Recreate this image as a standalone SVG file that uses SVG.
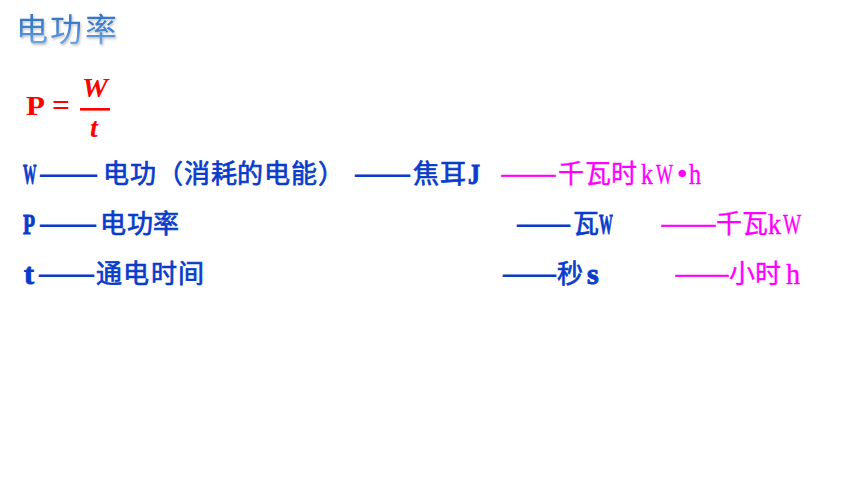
<svg xmlns="http://www.w3.org/2000/svg" width="860" height="484" viewBox="0 0 860 484">
<defs>
<linearGradient id="tg" x1="0" y1="0" x2="0" y2="1">
<stop offset="0" stop-color="#2D6CBD"/>
<stop offset="0.55" stop-color="#3F82CF"/>
<stop offset="1" stop-color="#8CB8E6"/>
</linearGradient>
<filter id="sh" x="-10%" y="-10%" width="130%" height="140%">
<feDropShadow dx="1" dy="1.5" stdDeviation="0.8" flood-color="#000" flood-opacity="0.25"/>
</filter>
</defs>
<style>
.cj{font-family:"Noto Sans CJK SC","Noto Sans",sans-serif;font-size:26px}
.la{font-family:"Liberation Serif","DejaVu Serif",serif;font-size:30px}
.dash{font-family:"Noto Sans CJK SC",sans-serif;font-size:26px;font-weight:bold}
.b{fill:#0A3CCB}
.b.cj{stroke:#0A3CCB;stroke-width:0.7}
.b.la{font-weight:bold;stroke:#0A3CCB;stroke-width:1}
.m{fill:#FF00FF}
.m.cj{stroke:#FF00FF;stroke-width:0.35}
.m.la{stroke:#FF00FF;stroke-width:0.4}
.m.dash{font-weight:normal;stroke:#FF00FF;stroke-width:0.5}
.r{fill:#FF0000}
.math{font-family:"Liberation Serif","DejaVu Serif",serif;font-weight:bold}
</style>
<rect width="860" height="484" fill="#FFFFFF"/>

<g id="title">
<text class="cj" style="font-size:32px" fill="url(#tg)" filter="url(#sh)" x="16 50 85" y="41">电功率</text>
</g>

<g id="formula" class="r">
<text class="math" x="26" y="115" font-size="28" textLength="19" lengthAdjust="spacingAndGlyphs">P</text>
<text class="math" x="52" y="115" font-size="29" textLength="18" lengthAdjust="spacingAndGlyphs">=</text>
<rect x="80" y="108" width="30" height="2.6"/>
<text class="math" x="82" y="97" font-size="28" font-style="italic" textLength="26" lengthAdjust="spacingAndGlyphs">W</text>
<text class="math" x="90" y="137" font-size="28" font-style="italic">t</text>
</g>

<g id="row-W">
<text class="la b" transform="translate(23,184) scale(0.45,1)">W</text>
<text class="dash b" x="38" y="183" textLength="61" lengthAdjust="spacingAndGlyphs">——</text>
<text class="cj b" x="103 130 157 184 211 237 264 291 318" y="183">电功（消耗的电能）</text>
<text class="dash b" x="353" y="183" textLength="59" lengthAdjust="spacingAndGlyphs">——</text>
<text class="cj b" x="413 440" y="183">焦耳</text>
<text class="la b" transform="translate(468,184) scale(0.8,1)">J</text>
<text class="dash m" x="500" y="183" textLength="57" lengthAdjust="spacingAndGlyphs">——</text>
<text class="cj m" x="558 585 611" y="183">千瓦时</text>
<text class="la m" transform="translate(641,184) scale(0.8,1)">k</text>
<text class="la m" transform="translate(656,184) scale(0.6,1)">W</text>
<text class="la m" x="677" y="184">•</text>
<text class="la m" transform="translate(689,184) scale(0.8,1)">h</text>
</g>

<g id="row-P">
<text class="la b" transform="translate(23,234) scale(0.66,1)">P</text>
<text class="dash b" x="38" y="233" textLength="60" lengthAdjust="spacingAndGlyphs">——</text>
<text class="cj b" x="100 127 153" y="233">电功率</text>
<text class="dash b" x="515" y="233" textLength="57" lengthAdjust="spacingAndGlyphs">——</text>
<text class="cj b" x="573" y="233">瓦</text>
<text class="la b" transform="translate(599,234) scale(0.46,1)">W</text>
<text class="dash m" x="660" y="233" textLength="57" lengthAdjust="spacingAndGlyphs">——</text>
<text class="cj m" x="716 742" y="233">千瓦</text>
<text class="la m" transform="translate(768,234) scale(0.87,1)">k</text>
<text class="la m" transform="translate(783,234) scale(0.64,1)">W</text>
</g>

<g id="row-t">
<text class="la b" x="24" y="284">t</text>
<text class="dash b" x="37" y="283" textLength="59" lengthAdjust="spacingAndGlyphs">——</text>
<text class="cj b" x="96 123 151 178" y="283">通电时间</text>
<text class="dash b" x="501" y="283" textLength="57" lengthAdjust="spacingAndGlyphs">——</text>
<text class="cj b" x="557" y="283">秒</text>
<text class="la b" x="587" y="284">s</text>
<text class="dash m" x="674" y="283" textLength="56" lengthAdjust="spacingAndGlyphs">——</text>
<text class="cj m" x="729 755" y="283">小时</text>
<text class="la m" transform="translate(786,284) scale(0.94,1)">h</text>
</g>
</svg>
